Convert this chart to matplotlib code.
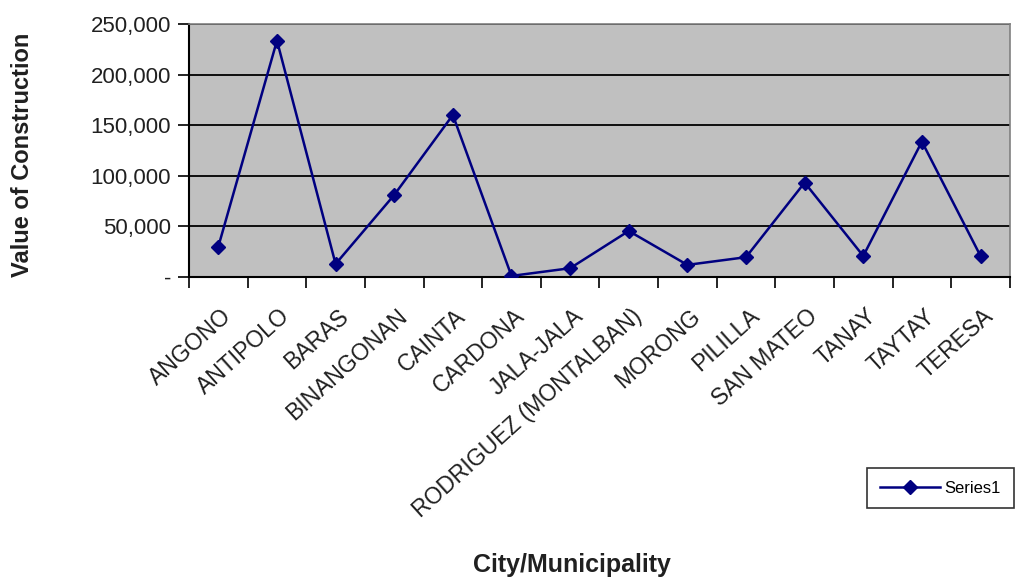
import matplotlib.pyplot as plt
from matplotlib.ticker import FuncFormatter, MultipleLocator
from matplotlib.transforms import ScaledTranslation
import numpy as np

plt.rcParams['font.family'] = ['Liberation Sans', 'DejaVu Sans']

cities = ['ANGONO', 'ANTIPOLO', 'BARAS', 'BINANGONAN', 'CAINTA', 'CARDONA',
          'JALA-JALA', 'RODRIGUEZ (MONTALBAN)', 'MORONG', 'PILILLA',
          'SAN MATEO', 'TANAY', 'TAYTAY', 'TERESA']
values = [30000, 233500, 12800, 81000, 160000, 1000, 8600, 45400,
          11900, 19500, 93200, 20700, 133700, 20700]

fig = plt.figure(figsize=(10.19, 5.83), dpi=100)
ax = fig.add_axes([0.1855, 0.525, 0.8055, 0.434])
ax.set_facecolor('#C0C0C0')

x = np.arange(len(cities))
ax.plot(x, values, color='#000080', lw=1.8, marker='D', markersize=7.5,
        markerfacecolor='#000080', markeredgecolor='#000080', label='Series1', zorder=3)

ax.set_xlim(-0.5, len(cities) - 0.5)
ax.set_ylim(0, 250000)
ax.yaxis.set_major_locator(MultipleLocator(50000))
ax.yaxis.set_major_formatter(FuncFormatter(lambda v, p: '-' if v == 0 else f'{v:,.0f}'))
ax.grid(axis='y', color='black', lw=1.3, zorder=1)
ax.set_axisbelow(True)

# ticks sit between categories, labels at the category centres
ax.set_xticks(np.arange(len(cities) + 1) - 0.5)
ax.set_xticklabels([])
ax.set_xticks(x, minor=True)
ax.set_xticklabels(cities, minor=True, rotation=42, ha='right', va='center',
                   rotation_mode='anchor', fontsize=16.5, color='#202020')
ax.tick_params(axis='x', which='minor', length=0, pad=26)
ax.tick_params(axis='x', which='major', length=8, width=1.2, direction='out')
ax.tick_params(axis='y', length=8, width=1.2, labelsize=16, pad=5, labelcolor='#202020')
shift = ScaledTranslation(10 / 100, 0, fig.dpi_scale_trans)
for lab in ax.get_xticklabels(minor=True):
    lab.set_transform(lab.get_transform() + shift)

for s in ['left', 'bottom']:
    ax.spines[s].set_linewidth(1.5)
    ax.spines[s].set_color('black')
for s in ['top', 'right']:
    ax.spines[s].set_color('#808080')
    ax.spines[s].set_linewidth(1.2)

fig.text(0.0216, 0.734, 'Value of Construction', fontsize=17, fontweight='bold',
         rotation=90, ha='center', va='center', color='#202020')
fig.text(0.561, 0.031, 'City/Municipality', fontsize=18, fontweight='bold',
         ha='center', va='center', color='#202020')

leg = fig.legend(loc='upper left', bbox_to_anchor=(0.851, 0.197), fontsize=12,
                 frameon=True, fancybox=False, edgecolor='black', borderpad=0.75,
                 handlelength=3.6, handletextpad=0.3, borderaxespad=0)
leg.get_frame().set_linewidth(1.2)

fig.savefig('out.png', dpi=100)
